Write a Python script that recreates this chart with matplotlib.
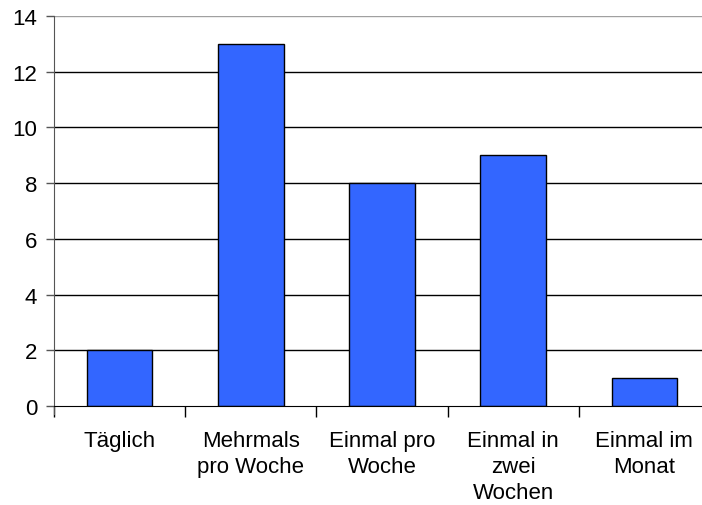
import matplotlib.pyplot as plt
import numpy as np

plt.rcParams['font.family'] = ['Liberation Sans', 'DejaVu Sans']

# Häufigkeit der Nutzung
categories = ["Täglich", "Mehrmals\npro Woche", "Einmal pro\nWoche",
              "Einmal in\nzwei\nWochen", "Einmal im\nMonat"]
counts = [2, 13, 8, 9, 1]
y_ticks = [0, 2, 4, 6, 8, 10, 12, 14]

fig = plt.figure(figsize=(7.02, 5.06), dpi=100)
ax = fig.add_axes([54 / 702, 99 / 506, 656 / 702, 390 / 506])

x = np.arange(len(categories))

# horizontal grid lines
for y in y_ticks[1:-1]:
    ax.axhline(y, color="black", lw=1.0, zorder=1)
ax.axhline(y_ticks[-1], color="#a0a0a0", lw=1.0, zorder=1)

ax.bar(x, counts, width=0.5, color="#3366FF", edgecolor="black",
       linewidth=1.0, zorder=3)

ax.set_xlim(-0.5, len(categories) - 0.5)
ax.set_ylim(0, 14)
ax.set_yticks(y_ticks)
ax.set_yticklabels([str(v) for v in y_ticks], fontsize=16)

ax.set_xticks(x)
ax.set_xticklabels(categories, fontsize=16, linespacing=1.3, va="top")
ax.tick_params(axis="x", which="major", length=0, pad=17.5)
ax.set_xticks(np.arange(-0.5, len(categories) + 0.5, 1.0), minor=True)
ax.tick_params(axis="x", which="minor", length=8, width=1.0, color="black")
ax.tick_params(axis="y", length=6, width=1.0, color="#555555", pad=6)

for side in ["top", "right"]:
    ax.spines[side].set_visible(False)
ax.spines["left"].set_color("#555555")
ax.spines["left"].set_bounds(-0.3, 14)
ax.spines["left"].set_zorder(4)
ax.spines["bottom"].set_color("black")
ax.spines["bottom"].set_zorder(4)

fig.savefig("out.png", dpi=100)
